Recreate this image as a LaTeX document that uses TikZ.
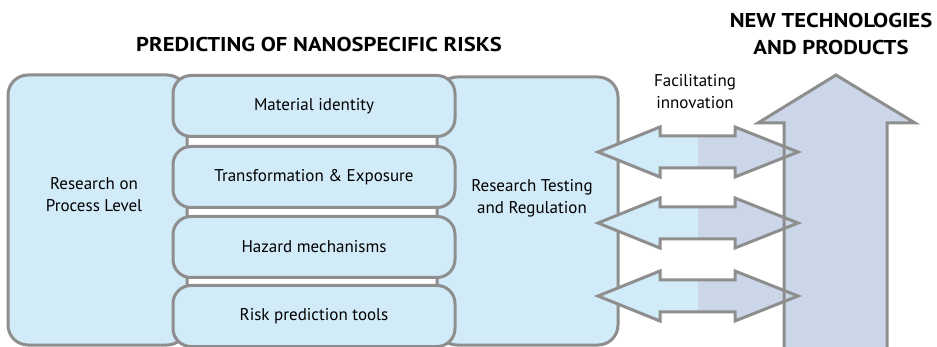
\documentclass[tikz,border=0pt]{standalone}
\usepackage{fontspec}
\setmainfont{PT Sans}
\newfontfamily\titlefont[FakeStretch=1.13]{PT Sans}
\definecolor{boxblue}{HTML}{D2EBF8}
\definecolor{bordergray}{HTML}{8E8E8E}
\definecolor{arrowblue}{HTML}{CBD6E9}
\begin{document}
\begin{tikzpicture}[x=1pt,y=-1pt,
  outerbox/.style={draw=bordergray,fill=boxblue,line width=3pt,rounded corners=20pt},
  layerbox/.style={draw=bordergray,fill=boxblue,line width=3pt,rounded corners=18pt,minimum width=282pt,minimum height=61pt,inner sep=0pt,font=\fontsize{17}{22}\selectfont},
  lbl/.style={font=\fontsize{17}{22}\selectfont,align=center},
  title/.style={font=\titlefont\bfseries\fontsize{20}{27}\selectfont,align=center},
  arrowline/.style={draw=bordergray,line width=3pt,line join=miter}]
\useasboundingbox (0,0) rectangle (937,347);
% outer boxes
\draw[outerbox] (8,75) rectangle (187,345);
\draw[outerbox] (437,77) rectangle (618,345);
\node[lbl] (proc) at (94,195) {Research on\\Process Level};
\node[lbl] (reg) at (532,198) {Research Testing\\and Regulation};
% layer boxes
\node[layerbox] (l1) at (314,106) {Material identity};
\node[layerbox] (l2) at (314,177) {Transformation \& Exposure};
\node[layerbox] (l3) at (314,247) {Hazard mechanisms};
\node[layerbox] (l4) at (314,316) {Risk prediction tools};
% titles
\node[title] (t1) at (319,45) {PREDICTING OF NANOSPECIFIC RISKS};
\node[title] (t2) at (831,34) {NEW TECHNOLOGIES\\AND PRODUCTS};
\node[lbl] (fac) at (695,92) {Facilitating\\innovation};
% big up arrow fill
\fill[arrowblue] (784,349) -- (784,123) -- (758,123) -- (836,75) -- (915,123) -- (887,123) -- (887,349) -- cycle;
% double arrows
\foreach \c in {152,223,296}{
  \begin{scope}
    \clip (598,\c) -- (660,\c-25) -- (660,\c-16) -- (735,\c-16) -- (735,\c-25) -- (798,\c) -- (735,\c+25) -- (735,\c+16) -- (660,\c+16) -- (660,\c+25) -- cycle;
    \fill[boxblue] (590,\c-30) rectangle (698,\c+30);
    \fill[arrowblue] (698,\c-30) rectangle (805,\c+30);
  \end{scope}
  \draw[arrowline] (598,\c) -- (660,\c-25) -- (660,\c-16) -- (735,\c-16) -- (735,\c-25) -- (798,\c) -- (735,\c+25) -- (735,\c+16) -- (660,\c+16) -- (660,\c+25) -- cycle;
}
% big arrow border
\draw[arrowline] (784,349) -- (784,123) -- (758,123) -- (836,75) -- (915,123) -- (887,123) -- (887,349);
\end{tikzpicture}
\end{document}
